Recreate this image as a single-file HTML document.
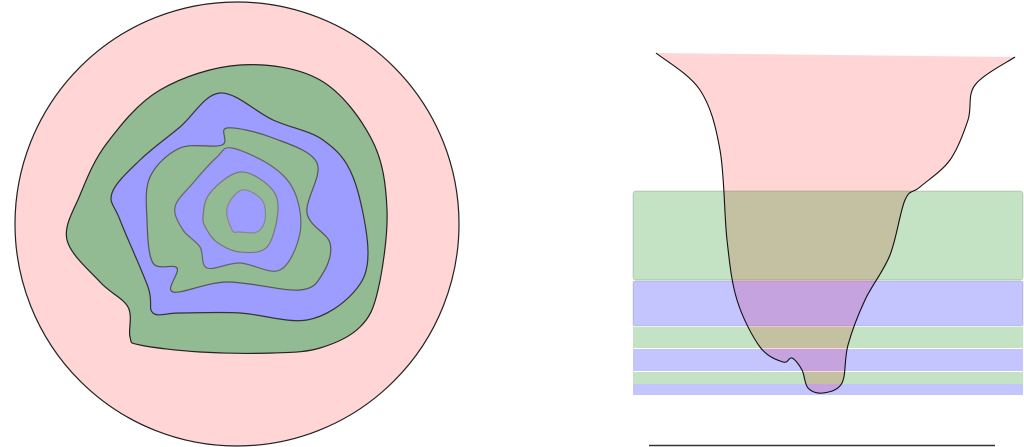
<!DOCTYPE html>
<html><head><meta charset="utf-8"><style>html,body{margin:0;padding:0;background:#fff}svg{display:block}</style></head>
<body>
<svg id="s" width="1024" height="447" viewBox="0 0 1024 447" xmlns="http://www.w3.org/2000/svg">
<circle cx="237" cy="224" r="222" fill="#ffd5d5" stroke="#222" stroke-width="1.2"/>
<g id="rings"></g>
<path id="pinkfill" fill="#ffd5d5" stroke="none"/>
<rect x="633" y="191" width="390" height="89" rx="3" fill="rgba(0,128,0,0.23)" stroke="rgba(0,0,0,0.15)" stroke-width="1"/>
<rect x="633" y="281" width="390" height="45" rx="2" fill="rgba(0,0,255,0.23)" stroke="rgba(0,0,0,0.12)" stroke-width="1"/>
<rect x="633" y="327" width="390" height="21" fill="rgba(0,128,0,0.23)"/>
<rect x="633" y="349" width="390" height="22" fill="rgba(0,0,255,0.23)"/>
<rect x="633" y="372" width="390" height="12" fill="rgba(0,128,0,0.23)"/>
<rect x="633" y="384" width="390" height="11" fill="rgba(0,0,255,0.23)"/>
<path id="pink" fill="none" stroke="#111" stroke-width="1.1"/>
<line x1="649" y1="445.5" x2="995" y2="445.5" stroke="#333" stroke-width="1.5"/>
</svg>
<script>
function smooth(p,closed){
  var n=p.length,d="M"+p[0][0]+","+p[0][1];
  var last=closed?n:n-1;
  for(var i=0;i<last;i++){
    var p0=p[(i-1+n)%n],p1=p[i],p2=p[(i+1)%n],p3=p[(i+2)%n];
    if(!closed){if(i==0)p0=p1;if(i+2>=n)p3=p2;}
    var t=6;
    d+=" C"+(p1[0]+(p2[0]-p0[0])/t)+","+(p1[1]+(p2[1]-p0[1])/t)+" "+(p2[0]-(p3[0]-p1[0])/t)+","+(p2[1]-(p3[1]-p1[1])/t)+" "+p2[0]+","+p2[1];
  }
  return d+(closed?"Z":"");
}
var rings=[
 [[240,65],[320,80],[372,140],[387,210],[378,290],[360,327],[320,348],[273,353],[200,352],[140,345],[130,337],[128,307],[100,282],[67,240],[80,195],[107,143],[160,90]],"#93bb93","#222",
 [[220,93],[273,120],[323,140],[353,177],[368,253],[353,293],[307,320],[240,313],[180,313],[153,313],[148,287],[120,220],[112,193],[140,160],[180,127]],"#9d9dff","#333",
 [[227,128],[273,138],[317,163],[307,213],[330,243],[323,273],[300,290],[227,282],[173,292],[177,268],[153,263],[147,220],[150,177],[180,148],[222,145]],"#93bb93","#555",
 [[232,148],[273,167],[295,193],[300,233],[280,270],[240,263],[207,268],[200,247],[183,230],[175,207],[193,183],[217,157]],"#9d9dff","#666",
 [[240,172],[270,187],[278,210],[267,247],[240,252],[218,243],[207,230],[203,217],[210,193]],"#93bb93","#777",
 [[242,190],[262,200],[265,220],[257,232],[240,232],[232,230],[227,208]],"#9d9dff","#888"
];
var g=document.getElementById("rings"),h="";
for(var i=0;i<rings.length;i+=3){h+='<path d="'+smooth(rings[i],true)+'" fill="'+rings[i+1]+'" stroke="'+rings[i+2]+'" stroke-width="1.2"/>';}
g.innerHTML=h;
var pk=[[656,53],[700,90],[720,150],[727,240],[737,300],[760,347],[783,362],[792,358],[802,370],[808,388],[823,393],[842,383],[848,345],[865,300],[890,255],[905,200],[920,187],[950,160],[968,120],[975,85],[1015,57]];
var d=smooth(pk,false);
document.getElementById("pink").setAttribute("d",d);
document.getElementById("pinkfill").setAttribute("d",d+" L656,53Z");
</script>
</body></html>
